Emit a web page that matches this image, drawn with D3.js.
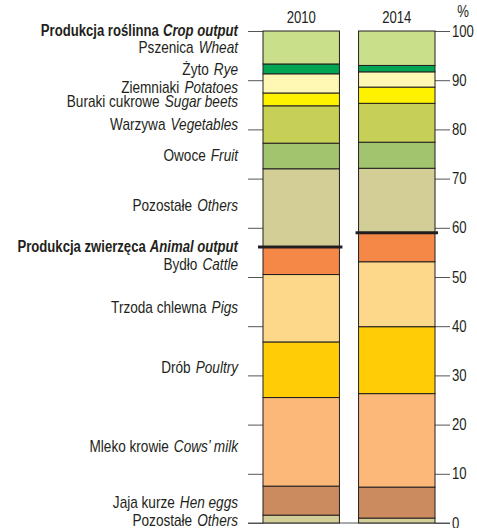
<!DOCTYPE html>
<html><head><meta charset="utf-8">
<script src="https://cdn.jsdelivr.net/npm/d3@7"></script>
<style>
body{margin:0;background:#fff;}
text{font-family:"Liberation Sans",Arial,sans-serif;fill:#231f20;}
</style></head><body>
<svg id="c" width="477" height="528"></svg>
<script>
// ---- data (top to bottom) ----
const years = ["2010", "2014"];
const segPl = ["Pszenica", "Żyto", "Ziemniaki", "Buraki cukrowe", "Warzywa", "Owoce", "Pozostałe",
               "Bydło", "Trzoda chlewna", "Drób", "Mleko krowie", "Jaja kurze", "Pozostałe"];
const segEn = ["Wheat", "Rye", "Potatoes", "Sugar beets", "Vegetables", "Fruit", "Others",
               "Cattle", "Pigs", "Poultry", "Cows’ milk", "Hen eggs", "Others"];
const segGroup = ["crop","crop","crop","crop","crop","crop","crop",
                  "animal","animal","animal","animal","animal","animal"];
const values2010 = [6.7, 2.0, 3.9, 2.6, 7.6, 5.2, 15.9, 5.6, 13.7, 11.3, 18.0, 5.9, 1.6];
const values2014 = [7.0, 1.3, 3.1, 3.3, 7.9, 5.3, 13.1, 5.9, 13.2, 13.6, 19.0, 6.3, 1.0];
const groupPl = {crop: "Produkcja roślinna", animal: "Produkcja zwierzęca"};
const groupEn = {crop: "Crop output", animal: "Animal output"};
const yTicks = [0, 10, 20, 30, 40, 50, 60, 70, 80, 90, 100];

// ---- styles ----
const colors = ["#c9df8a", "#00a651", "#fff8b4", "#fff200", "#c6cf56", "#a3c46e", "#d3cd96",
                "#f58747", "#fdd88a", "#ffcc05", "#fbb878", "#cc8b5f", "#d3cd96"];
const labelNudge = [0, 1, 4, 2, 0, 0, -2, 4, -1, -2, 5, 2, 1];
const squeeze = 0.85;
const squeezeBold = 0.82;
const fs = "16px";

const svg = d3.select("#c");
const y = d3.scaleLinear().domain([0, 100]).range([523, 31]);
const x = d3.scaleBand().domain(years).range([263, 435]).paddingInner(0.2);
const valuesByYear = {"2010": values2010, "2014": values2014};

function ctext(px, py, anchor, sq) {
  return svg.append("g").attr("transform", `translate(${px},${py}) scale(${sq || squeeze},1)`)
    .append("text").attr("text-anchor", anchor).style("font-size", fs);
}

// stack bottom-up
const keys = d3.range(segPl.length).reverse();
const rows = years.map(yr => {
  const o = {year: yr};
  keys.forEach(k => o[k] = valuesByYear[yr][k]);
  return o;
});
const series = d3.stack().keys(keys)(rows);

// left ticks (no labels)
const leftAxis = svg.append("g").attr("transform", `translate(${x("2010")},0)`)
  .call(d3.axisLeft(y).tickValues(yTicks).tickSize(15).tickFormat(""));
leftAxis.select(".domain").remove();
leftAxis.selectAll("line").attr("stroke", "#555");

// right axis
const rightX = x("2014") + x.bandwidth();
const rightAxis = svg.append("g").attr("transform", `translate(${rightX},0)`)
  .call(d3.axisRight(y).tickValues(yTicks).tickSize(15).tickPadding(3));
rightAxis.select(".domain").remove();
rightAxis.selectAll("line").attr("stroke", "#555");
rightAxis.selectAll("text")
  .attr("x", 0).attr("transform", `translate(17,0) scale(${squeezeBold},1)`)
  .attr("fill", "#231f20")
  .style("font-size", fs).style("font-family", '"Liberation Sans",Arial,sans-serif');

// baseline
svg.append("line").attr("x1", x("2010") - 15).attr("x2", rightX + 15)
  .attr("y1", y(0)).attr("y2", y(0)).attr("stroke", "#555");

// bars
series.forEach(s => {
  svg.append("g").selectAll("rect").data(s).join("rect")
    .attr("x", d => x(d.data.year))
    .attr("width", x.bandwidth())
    .attr("y", d => y(d[1]))
    .attr("height", d => y(d[0]) - y(d[1]))
    .attr("fill", colors[s.key])
    .attr("stroke", "#231f20").attr("stroke-width", 1);
});

// thick separator line at animal/crop boundary
years.forEach((yr, i) => {
  const animalSum = d3.sum(valuesByYear[yr].filter((v, k) => segGroup[k] === "animal"));
  const ext = i === 0 ? [x(yr) - 5, x(yr) + x.bandwidth() + 3] : [x(yr) - 3, x(yr) + x.bandwidth() + 3];
  svg.append("line").attr("x1", ext[0]).attr("x2", ext[1])
    .attr("y1", y(animalSum)).attr("y2", y(animalSum))
    .attr("stroke", "#231f20").attr("stroke-width", 3);
});

// year labels
years.forEach(yr => {
  ctext(x(yr) + x.bandwidth() / 2, 22.5, "middle", squeezeBold).text(yr);
});
ctext(463, 17, "middle", squeezeBold).text("%");

// category labels (positioned at midpoint of 2010 segment)
const labelX = 238;
let cum = 100;
values2010.forEach((v, k) => {
  const mid = cum - v / 2;
  cum -= v;
  const t = ctext(labelX, y(mid) + 5.5 + labelNudge[k], "end");
  t.append("tspan").text(segPl[k]);
  t.append("tspan").attr("dx", 6).style("font-style", "italic").text(segEn[k]);
});

// group headers
const animalTotal2010 = d3.sum(values2010.filter((v, k) => segGroup[k] === "animal"));
[["crop", 100], ["animal", animalTotal2010]].forEach(([g, v]) => {
  const t = ctext(labelX, y(v) + 5, "end", squeezeBold).style("font-weight", "bold");
  t.append("tspan").text(groupPl[g]);
  t.append("tspan").attr("dx", 5).style("font-style", "italic").text(groupEn[g]);
});
</script></body></html>
